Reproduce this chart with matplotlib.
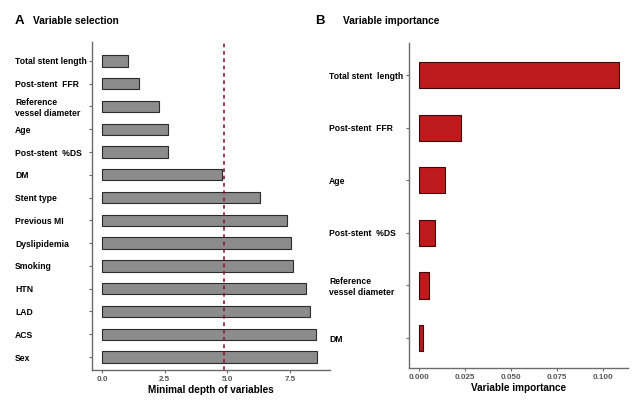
import matplotlib.pyplot as plt

plt.rcParams['font.family'] = ['Liberation Sans', 'DejaVu Sans']
plt.rcParams['font.weight'] = 'bold'

# Panel A: minimal depth
sel_vars = ["Total stent length", "Post-stent  FFR", "Reference\nvessel diameter",
            "Age", "Post-stent  %DS", "DM", "Stent type", "Previous MI",
            "Dyslipidemia", "Smoking", "HTN", "LAD", "ACS", "Sex"]
sel_depth = [1.04, 1.48, 2.28, 2.64, 2.64, 4.8, 6.32, 7.4, 7.56, 7.64, 8.16, 8.3, 8.56, 8.6]
depth_threshold = 4.88
sel_ticks = [0.0, 2.5, 5.0, 7.5]

# Panel B: variable importance
imp_vars = ["Total stent  length", "Post-stent  FFR", "Age", "Post-stent  %DS",
            "Reference\nvessel diameter", "DM"]
imp_vals = [0.1087, 0.0228, 0.0141, 0.0087, 0.0054, 0.0022]
imp_ticks = [0.0, 0.025, 0.05, 0.075, 0.1]

fig = plt.figure(figsize=(6.44, 4.08), dpi=100)
axA = fig.add_axes([0.1429, 0.0931, 0.3695, 0.804])
axB = fig.add_axes([0.635, 0.098, 0.340, 0.7966])

spine_col = "#6b6b6b"

def style(ax, pad):
    for s in ["top", "right"]:
        ax.spines[s].set_visible(False)
    for s in ["left", "bottom"]:
        ax.spines[s].set_color(spine_col)
        ax.spines[s].set_linewidth(1.0)
    ax.tick_params(axis="y", length=2.5, width=0.8, color=spine_col, pad=pad, labelsize=6.2)
    ax.tick_params(axis="x", length=2.5, width=0.8, color=spine_col, labelsize=5.8,
                   labelcolor="#555555", pad=2)
    for lab in ax.get_yticklabels():
        lab.set_horizontalalignment("left")
        lab.set_multialignment("left")
        lab.set_fontweight("bold")
        lab.set_linespacing(1.25)
    for lab in ax.get_xticklabels():
        lab.set_fontweight("bold")

# A
ya = list(range(len(sel_vars)))
axA.barh(ya, sel_depth, height=0.5, color="#8c8c8c", edgecolor="#2b2b2b", linewidth=0.8)
axA.axvline(depth_threshold, color="#8b1a2b", linestyle=(0, (2.2, 2.2)), linewidth=1.2)
axA.set_yticks(ya)
axA.set_yticklabels(sel_vars)
axA.set_xticks(sel_ticks)
axA.set_xticklabels(["0.0", "2.5", "5.0", "7.5"])
axA.set_xlim(-0.4, 9.1)
axA.set_ylim(len(sel_vars) - 1 + 0.57, -0.83)
axA.set_xlabel("Minimal depth of variables", fontsize=7.2, fontweight="bold", labelpad=1)
style(axA, 53)

# B
yb = list(range(len(imp_vars)))
axB.barh(yb, imp_vals, height=0.5, color="#be1a1e", edgecolor="#3a0a0a", linewidth=0.8)
axB.set_yticks(yb)
axB.set_yticklabels(imp_vars)
axB.set_xticks(imp_ticks)
axB.set_xticklabels(["0.000", "0.025", "0.050", "0.075", "0.100"])
axB.set_xlim(-0.0054, 0.1136)
axB.set_ylim(len(imp_vars) - 1 + 0.57, -0.61)
axB.set_xlabel("Variable importance", fontsize=7.2, fontweight="bold", labelpad=1)
style(axB, 55)

fig.text(0.023, 0.948, "A", fontsize=9.5, fontweight="bold", va="center")
fig.text(0.051, 0.948, "Variable selection", fontsize=7.3, fontweight="bold", va="center")
fig.text(0.49, 0.948, "B", fontsize=9.5, fontweight="bold", va="center")
fig.text(0.533, 0.948, "Variable importance", fontsize=7.3, fontweight="bold", va="center")

fig.savefig("out.png", dpi=100)
